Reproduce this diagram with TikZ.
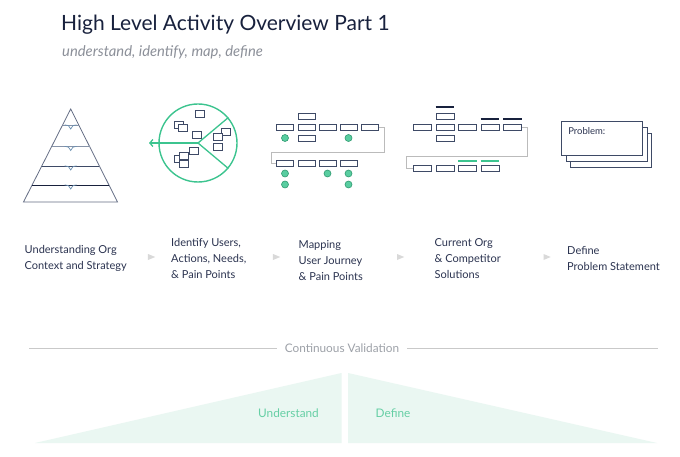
\documentclass[tikz,border=0pt]{standalone}
\usepackage{fontspec}
\setmainfont{Lato}
\usetikzlibrary{shapes.geometric,arrows.meta}
\definecolor{navy}{HTML}{18213D}
\definecolor{ink}{HTML}{2B3350}
\definecolor{iconblue}{HTML}{3E4A66}
\definecolor{softblue}{HTML}{8793A8}
\definecolor{notchblue}{HTML}{6A8FB0}
\definecolor{mint}{HTML}{3CC48F}
\definecolor{mintdark}{HTML}{2E9A70}
\definecolor{mintfill}{HTML}{EAF7F2}
\definecolor{mintword}{HTML}{66CFA5}
\definecolor{greyline}{HTML}{BBBBBB}
\definecolor{greytext}{HTML}{8C9099}
\tikzstyle{box}=[rectangle, draw=iconblue, fill=white, line width=0.9pt, inner sep=0pt, minimum width=17pt, minimum height=6pt]
\tikzstyle{widebox}=[box, minimum width=18pt]
\tikzstyle{greendot}=[circle, draw=mintdark, fill=mint!85, line width=0.6pt, inner sep=0pt, minimum size=7pt]
\tikzstyle{sq}=[rectangle, draw=iconblue, fill=white, line width=0.7pt, inner sep=0pt, minimum width=9pt, minimum height=7pt]
\tikzstyle{link}=[draw=greyline, line width=0.9pt]
\tikzstyle{darkbar}=[draw=navy, line width=2pt]
\tikzstyle{greenbar}=[draw=mint, line width=2pt]
\tikzstyle{card}=[rectangle, draw=iconblue, fill=white, line width=0.9pt, minimum width=81pt, minimum height=34pt]
\tikzstyle{lbl}=[anchor=west, align=left, inner sep=0pt, text=ink, font=\fontsize{11}{16}\selectfont]
\tikzstyle{flowtri}=[isosceles triangle, fill=gray!30, inner sep=0pt, minimum width=6pt, minimum height=5pt]
\tikzstyle{phase}=[text=mintword, font=\fontsize{11.8}{14}\selectfont]
\begin{document}
\begin{tikzpicture}[x=1pt,y=-1pt]
	\path[fill=white,use as bounding box] (0,0) rectangle (680,457);

	%The heading
	\node[anchor=base west, inner sep=0pt, text=navy, font=\fontsize{21}{24}\selectfont] (title) at (61,31) {High Level Activity Overview Part 1};
	\node[anchor=base west, inner sep=0pt, text=greytext, font=\fontsize{14.8}{17}\selectfont\itshape] (subtitle) at (62,57) {understand, identify, map, define};

	%The pyramid
	\draw[draw=iconblue!80, line width=0.8pt] (70.7,109) -- (23.5,202) -- (117.5,202) -- cycle;
	\foreach \y/\c in {125/softblue,146.5/softblue,166/iconblue,185/navy}{
		\draw[draw=\c, line width=0.8pt] ({70.7-(\y-109)*0.505},\y) -- ({70.7+(\y-109)*0.505},\y);
		\draw[draw=notchblue, line width=0.7pt] (64.7,\y) .. controls (68.2,\y) and (69.7,\y+1) .. (70.7,\y+4) .. controls (71.7,\y+1) and (73.2,\y) .. (76.7,\y);
	}

	%The users circle
	\node[circle, draw=mint, line width=1.4pt, minimum size=78pt] (pie) at (198,143) {};
	\coordinate (pietip) at (149,143);
	\draw[mint, line width=1.3pt] (pie.center) -- (pie.40);
	\draw[mint, line width=1.3pt] (pie.center) -- (pie.-40);
	\draw[mint, line width=1.3pt, -{Straight Barb[length=3pt,width=7pt]}] (pie.center) -- (pietip);
	\foreach \i/\x/\y in {1/200/114,2/178.5/124.5,3/183/128,4/196.5/134.5,5/193.5/151,6/179/158.5,7/183.5/155.5,8/183.5/164,9/226/131.5,10/217.5/137,11/217.5/147}
		\node[sq] (u\i) at (\x,\y) {};

	%The journey map
	\foreach \i/\x in {1/285,2/306.5,3/327.5,4/348.5,5/370}
		\node[box] (m\i) at (\x,127) {};
	\node[box] (mtop) at (306.5,116) {};
	\node[box] (mbot) at (306.5,138) {};
	\foreach \i/\x in {1/285,2/306.5,3/327.5,4/348.5}
		\node[box] (n\i) at (\x,163) {};
	\node[greendot] (d1) at (285,138) {};
	\node[greendot] (d2) at (348.5,138) {};
	\node[greendot] (d3) at (285,173.5) {};
	\node[greendot] (d4) at (285,184.5) {};
	\node[greendot] (d5) at (327.5,173.5) {};
	\node[greendot] (d6) at (348.5,173.5) {};
	\node[greendot] (d7) at (348.5,184.5) {};
	\coordinate (mturn) at (384,152);
	\coordinate (mback) at (271,152);
	\draw[link] (m5.east) -| (mturn) -- (mback) |- (n1.west);

	%The org and competitor map
	\foreach \i/\x in {1/422.5,2/445,3/467.5,4/490,5/512.5}
		\node[widebox] (o\i) at (\x,127) {};
	\node[widebox] (otop) at (445,116) {};
	\node[widebox] (obot) at (445,138.5) {};
	\foreach \i/\x in {1/422.5,2/445,3/467.5,4/490}
		\node[widebox] (p\i) at (\x,168.5) {};
	\draw[darkbar] ([yshift=6pt]otop.north west) -- ([yshift=6pt]otop.north east);
	\draw[darkbar] ([yshift=5pt]o4.north west) -- ([yshift=5pt]o4.north east);
	\draw[darkbar] ([yshift=5pt]o5.north west) -- ([yshift=5pt]o5.north east);
	\draw[greenbar] ([yshift=4pt]p3.north west) -- ([yshift=4pt]p3.north east);
	\draw[greenbar] ([yshift=4pt]p4.north west) -- ([yshift=4pt]p4.north east);
	\coordinate (oturn) at (527,156.5);
	\coordinate (oback) at (406.5,156.5);
	\draw[link] (o5.east) -| (oturn) -- (oback) |- (p1.west);

	%The problem cards
	\node[card] (card3) at (611,150.3) {};
	\node[card] (card2) at (606.5,144.5) {};
	\node[card] (card1) at (602,138) {};
	\node[anchor=north west, inner sep=0pt, text=ink, font=\fontsize{9.5}{11}\selectfont] (probtext) at ([shift={(7,7)}]card1.north west) {Problem:};

	%The step labels
	\node[lbl] (l1) at (24.5,258.3) {Understanding Org\\Context and Strategy};
	\node[lbl] (l2) at (171,258.3) {Identify Users,\\Actions, Needs,\\\& Pain Points};
	\node[lbl] (l3) at (298.5,260.3) {Mapping\\User Journey\\\& Pain Points};
	\node[lbl] (l4) at (434.5,258.3) {Current Org\\\& Competitor\\Solutions};
	\node[lbl] (l5) at (567,258.3) {Define\\Problem Statement};
	\foreach \i/\x in {1/150,2/275,3/399,4/545.5}
		\node[flowtri] (a\i) at (\x,257) {};

	%The validation line
	\node[inner sep=8pt, text=greytext!85, font=\fontsize{11.8}{14}\selectfont] (cv) at (342,348) {Continuous Validation};
	\coordinate (cvleft) at (29,348);
	\coordinate (cvright) at (658,348);
	\draw[link, draw=greyline!80] (cvleft) -- (cv.west);
	\draw[link, draw=greyline!80] (cv.east) -- (cvright);

	%The two phases
	\fill[mintfill] (35,443) -- (341.5,373) -- (341.5,443) -- cycle;
	\fill[mintfill] (348,373) -- (657,443) -- (348,443) -- cycle;
	\node[phase] (understand) at (288.5,413) {Understand};
	\node[phase] (define) at (393,413) {Define};
\end{tikzpicture}
\end{document}
